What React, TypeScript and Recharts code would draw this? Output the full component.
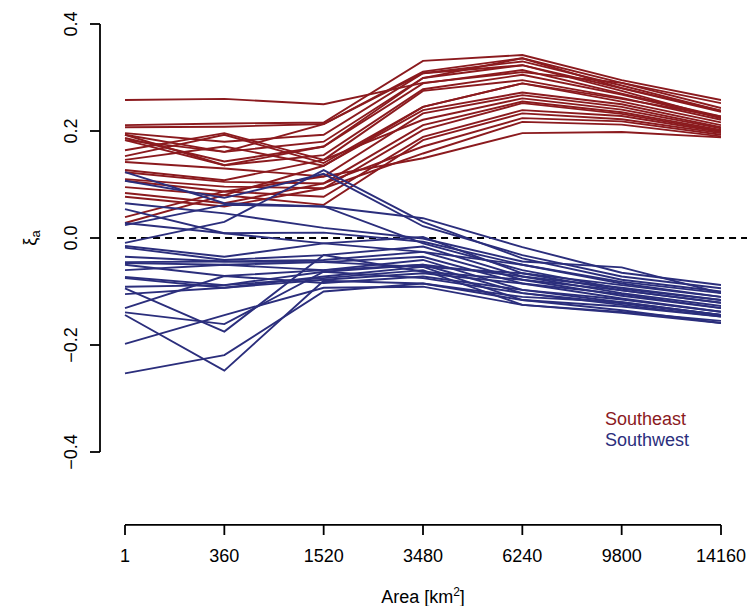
import { LineChart, Line, XAxis, YAxis, ReferenceLine, Legend } from 'recharts';

const areas = ['1', '360', '1520', '3480', '6240', '9800', '14160'];
const yTicks = [-0.4, -0.2, 0, 0.2, 0.4];
const regions = ['Southeast', 'Southwest'];
const colors = ['#8B1A1E', '#2B2E7C'];

// one row per catchment, values at each area
const southeast: number[][] = [
  [0.258, 0.26, 0.25, 0.29, 0.31, 0.29, 0.252],
  [0.211, 0.214, 0.216, 0.331, 0.342, 0.295, 0.258],
  [0.207, 0.208, 0.213, 0.311, 0.336, 0.29, 0.243],
  [0.196, 0.18, 0.193, 0.308, 0.33, 0.285, 0.238],
  [0.193, 0.161, 0.18, 0.299, 0.323, 0.28, 0.236],
  [0.187, 0.143, 0.171, 0.289, 0.314, 0.27, 0.227],
  [0.183, 0.136, 0.155, 0.278, 0.305, 0.268, 0.224],
  [0.164, 0.196, 0.146, 0.275, 0.295, 0.262, 0.221],
  [0.153, 0.193, 0.14, 0.245, 0.289, 0.255, 0.216],
  [0.146, 0.171, 0.135, 0.239, 0.272, 0.25, 0.211],
  [0.142, 0.13, 0.115, 0.233, 0.267, 0.245, 0.207],
  [0.127, 0.108, 0.146, 0.221, 0.261, 0.24, 0.205],
  [0.123, 0.105, 0.102, 0.211, 0.255, 0.235, 0.202],
  [0.11, 0.096, 0.093, 0.202, 0.252, 0.232, 0.2],
  [0.107, 0.087, 0.077, 0.189, 0.239, 0.228, 0.198],
  [0.095, 0.08, 0.062, 0.183, 0.233, 0.222, 0.196],
  [0.084, 0.065, 0.102, 0.171, 0.224, 0.218, 0.193],
  [0.077, 0.059, 0.093, 0.158, 0.217, 0.212, 0.19],
  [0.039, 0.087, 0.115, 0.149, 0.196, 0.198, 0.188],
  [0.028, 0.08, 0.135, 0.245, 0.289, 0.26, 0.227],
  [0.193, 0.136, 0.171, 0.299, 0.336, 0.28, 0.238],
  [0.183, 0.161, 0.213, 0.308, 0.323, 0.275, 0.224],
];

const southwest: number[][] = [
  [0.123, 0.065, 0.059, 0.037, -0.017, -0.065, -0.088],
  [0.107, 0.075, 0.12, 0.022, -0.032, -0.072, -0.094],
  [-0.009, 0.03, 0.127, 0.03, -0.038, -0.078, -0.1],
  [0.065, 0.046, 0.019, -0.001, -0.044, -0.055, -0.103],
  [0.054, 0.009, 0.01, -0.007, -0.05, -0.085, -0.11],
  [0.024, 0.062, 0.059, -0.01, -0.06, -0.095, -0.116],
  [-0.015, -0.035, -0.01, 0.002, -0.066, -0.098, -0.121],
  [-0.018, -0.041, -0.032, -0.016, -0.072, -0.103, -0.127],
  [-0.045, -0.044, -0.041, -0.026, -0.078, -0.108, -0.131],
  [-0.047, -0.05, -0.045, -0.035, -0.085, -0.113, -0.138],
  [-0.05, -0.071, -0.06, -0.041, -0.097, -0.12, -0.144],
  [-0.073, -0.088, -0.063, -0.05, -0.103, -0.125, -0.147],
  [-0.075, -0.093, -0.072, -0.054, -0.116, -0.135, -0.159],
  [-0.091, -0.088, -0.075, -0.06, -0.125, -0.138, -0.155],
  [-0.094, -0.175, -0.032, -0.063, -0.078, -0.098, -0.121],
  [-0.105, -0.093, -0.078, -0.066, -0.085, -0.105, -0.131],
  [-0.131, -0.071, -0.084, -0.072, -0.097, -0.115, -0.138],
  [-0.139, -0.161, -0.063, -0.075, -0.103, -0.122, -0.144],
  [-0.144, -0.248, -0.08, -0.085, -0.116, -0.128, -0.147],
  [-0.198, -0.144, -0.093, -0.091, -0.125, -0.14, -0.159],
  [-0.253, -0.219, -0.1, -0.085, -0.11, -0.12, -0.144],
  [-0.035, -0.044, -0.045, -0.054, -0.066, -0.088, -0.11],
  [-0.06, -0.05, -0.06, -0.05, -0.072, -0.093, -0.116],
  [0.028, 0.009, -0.01, -0.026, -0.05, -0.082, -0.103],
];

const rows = areas.map((_, i) => {
  const row: Record<string, number> = { idx: i };
  southeast.forEach((s, k) => (row[`se${k}`] = s[i]));
  southwest.forEach((s, k) => (row[`sw${k}`] = s[i]));
  return row;
});

const FONT = '"Liberation Sans", Arial, sans-serif';
const X_AXIS_Y = 525;
const X_AXIS_VALUE = -0.5364; // where the x axis sits, below the data

const XTick = ({ x, payload }: any) => (
  <g>
    <line x1={x} x2={x} y1={X_AXIS_Y} y2={X_AXIS_Y + 10} stroke="#000" strokeWidth={1.8} />
    <text x={x} y={562} textAnchor="middle" fontSize={18} fontFamily={FONT} fill="#000">
      {areas[payload.value]}
    </text>
  </g>
);

const YTick = ({ y, payload }: any) => {
  const v = payload.value as number;
  const label = (v < 0 ? '\u2212' : '') + Math.abs(v).toFixed(1);
  return (
    <text
      x={77}
      y={y}
      transform={`rotate(-90, 77, ${y})`}
      textAnchor="middle"
      fontSize={18}
      fontFamily={FONT}
      fill="#000"
    >
      {label}
    </text>
  );
};

const RegionLegend = () => (
  <div style={{ fontFamily: FONT, fontSize: 18, lineHeight: '21px' }}>
    {regions.map((r, i) => (
      <div key={r} style={{ color: colors[i] }}>{r}</div>
    ))}
  </div>
);

export default function App() {
  return (
    <div style={{ position: 'absolute', left: 0, top: 0, width: 747, height: 606, background: '#fff' }}>
      <LineChart
        width={747}
        height={606}
        data={rows}
        margin={{ top: 24, right: 26, bottom: 124, left: 40 }}
      >
        <XAxis
          dataKey="idx"
          type="number"
          domain={[-0.2517, 6]}
          allowDataOverflow
          ticks={areas.map((_, i) => i)}
          interval={0}
          axisLine={false}
          tickLine={false}
          height={30}
          tick={<XTick />}
          label={{
            content: () => (
              <text x={423} y={603} textAnchor="middle" fontSize={18} fontFamily={FONT} fill="#000">
                Area [km
                <tspan dy={-7} fontSize={12}>2</tspan>
                <tspan dy={7}>]</tspan>
              </text>
            ),
          }}
        />
        <YAxis
          type="number"
          domain={[-0.4, 0.4]}
          ticks={yTicks}
          interval={0}
          width={60}
          axisLine={{ stroke: '#000', strokeWidth: 1.8 }}
          tickLine={{ stroke: '#000', strokeWidth: 1.8 }}
          tickSize={10}
          tick={<YTick />}
          label={{
            content: () => (
              <text
                x={36}
                y={238}
                transform="rotate(-90, 36, 238)"
                textAnchor="middle"
                fontSize={18}
                fontFamily={FONT}
                fill="#000"
              >
                ξ<tspan dy={4} fontSize={13}>a</tspan>
              </text>
            ),
          }}
        />
        <ReferenceLine
          segment={[{ x: 0, y: X_AXIS_VALUE }, { x: 6, y: X_AXIS_VALUE }]}
          ifOverflow="visible"
          stroke="#000"
          strokeWidth={1.8}
        />
        <ReferenceLine
          segment={[{ x: -0.08, y: 0 }, { x: 6.27, y: 0 }]}
          ifOverflow="visible"
          stroke="#000"
          strokeWidth={2}
          strokeDasharray="7 5"
        />
        {southeast.map((_, k) => (
          <Line
            key={`se${k}`}
            dataKey={`se${k}`}
            stroke={colors[0]}
            strokeWidth={1.9}
            dot={false}
            activeDot={false}
            isAnimationActive={false}
            legendType="none"
          />
        ))}
        {southwest.map((_, k) => (
          <Line
            key={`sw${k}`}
            dataKey={`sw${k}`}
            stroke={colors[1]}
            strokeWidth={1.9}
            dot={false}
            activeDot={false}
            isAnimationActive={false}
            legendType="none"
          />
        ))}
        <Legend
          layout="horizontal"
          verticalAlign="middle"
          content={<RegionLegend />}
          wrapperStyle={{ left: 605, top: 409, width: 'auto' }}
        />
      </LineChart>
    </div>
  );
}
